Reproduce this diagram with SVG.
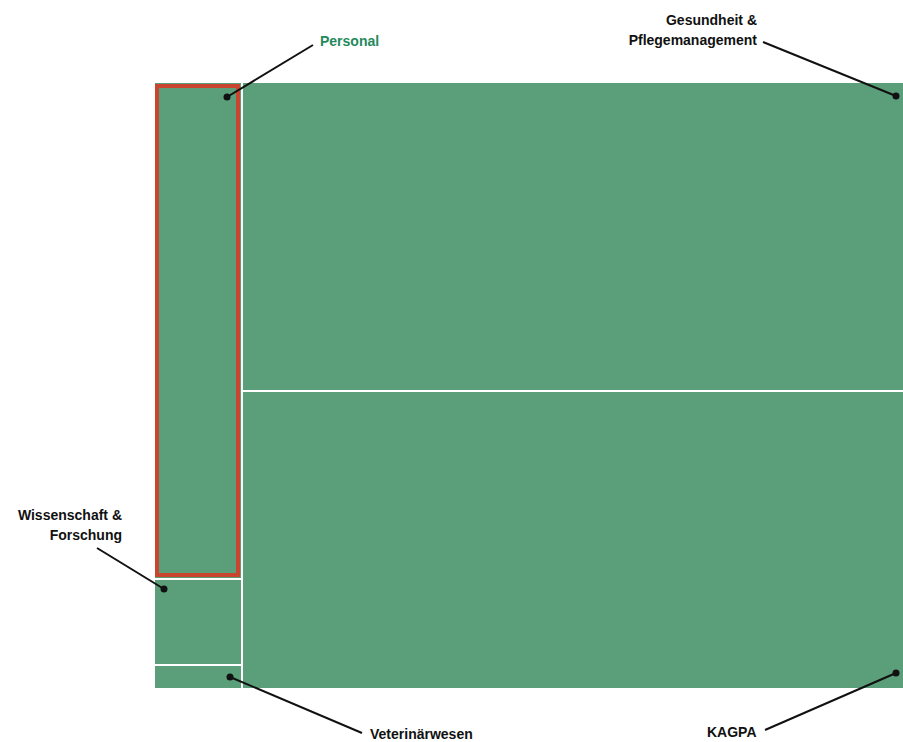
<svg xmlns="http://www.w3.org/2000/svg" width="903" height="742" viewBox="0 0 903 742">
<style>
.cell{fill:#5b9f7a}
.lbl{font-family:"Liberation Sans",Arial,sans-serif;font-weight:bold;font-size:14px;fill:#111}
.lead{stroke:#111;stroke-width:2;fill:none}
.dot{fill:#111}
</style>
<rect width="903" height="742" fill="#ffffff"/>
<g id="treemap">
<g id="gesundheit"><rect class="cell" x="243" y="83" width="660" height="307"/></g>
<g id="kagpa"><rect class="cell" x="243" y="392" width="660" height="296"/></g>
<g id="personal"><rect class="cell" x="155" y="83" width="86" height="495"/>
<rect x="157" y="86" width="81" height="489" fill="none" stroke="#c9452f" stroke-width="4"/></g>
<g id="wissenschaft"><rect class="cell" x="155" y="580" width="86" height="84"/></g>
<g id="veterinaer"><rect class="cell" x="155" y="666" width="86" height="22"/></g>
</g>
<g id="connectors">
<line class="lead" x1="227" y1="97" x2="313" y2="45"/>
<circle class="dot" cx="227" cy="97" r="3.5"/>
<line class="lead" x1="763" y1="42" x2="896" y2="96"/>
<circle class="dot" cx="896" cy="96" r="3.5"/>
<line class="lead" x1="97" y1="548" x2="164" y2="589"/>
<circle class="dot" cx="164" cy="589" r="3.5"/>
<line class="lead" x1="230" y1="677" x2="362" y2="733"/>
<circle class="dot" cx="230" cy="677" r="3.5"/>
<line class="lead" x1="896" y1="673" x2="765" y2="730"/>
<circle class="dot" cx="896" cy="673" r="3.5"/>
</g>
<g id="labels">
<text class="lbl" x="320" y="46" style="fill:#24895c">Personal</text>
<text class="lbl" x="757" y="25" text-anchor="end">Gesundheit &amp;</text>
<text class="lbl" x="757" y="45" text-anchor="end">Pflegemanagement</text>
<text class="lbl" x="122" y="520" text-anchor="end">Wissenschaft &amp;</text>
<text class="lbl" x="122" y="540" text-anchor="end">Forschung</text>
<text class="lbl" x="370" y="739">Veterinärwesen</text>
<text class="lbl" x="707" y="737">KAGPA</text>
</g>
</svg>
